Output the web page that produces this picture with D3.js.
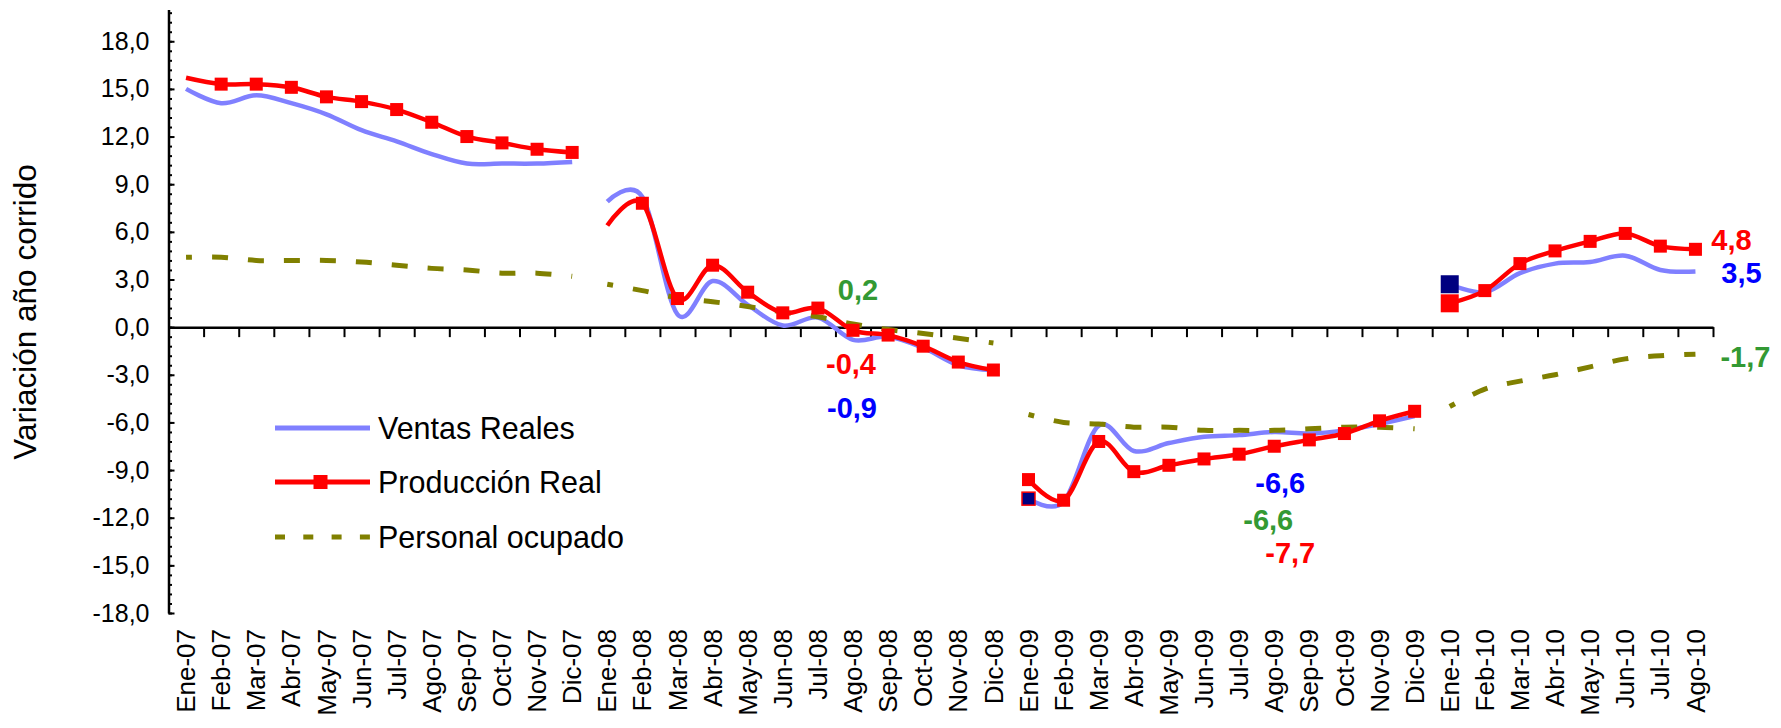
<!DOCTYPE html>
<html>
<head>
<meta charset="utf-8">
<script src="https://cdn.jsdelivr.net/npm/d3@7"></script>
<style>
  body { margin: 0; background: #fff; }
  svg { display: block; font-family: "Liberation Sans", Arial, sans-serif; }
</style>
</head>
<body>
<svg id="chart" width="1781" height="728"></svg>
<script>
// categorias del eje x
var meses = [
  "Ene-07", "Feb-07", "Mar-07", "Abr-07", "May-07", "Jun-07", "Jul-07", "Ago-07", "Sep-07", "Oct-07", "Nov-07", "Dic-07",
  "Ene-08", "Feb-08", "Mar-08", "Abr-08", "May-08", "Jun-08", "Jul-08", "Ago-08", "Sep-08", "Oct-08", "Nov-08", "Dic-08",
  "Ene-09", "Feb-09", "Mar-09", "Abr-09", "May-09", "Jun-09", "Jul-09", "Ago-09", "Sep-09", "Oct-09", "Nov-09", "Dic-09",
  "Ene-10", "Feb-10", "Mar-10", "Abr-10", "May-10", "Jun-10", "Jul-10", "Ago-10"
];

// variacion año corrido (%)
var ventasReales = [
  15.0, 14.1, 14.6, 14.1, 13.4, 12.4, 11.7, 10.9, 10.3, 10.3, 10.3, 10.4,
  7.9, 8.2, 0.8, 2.9, 1.4, 0.1, 0.6, -0.8, -0.6, -1.3, -2.4, -2.7,
  -10.8, -11.0, -6.2, -7.8, -7.3, -6.9, -6.8, -6.6, -6.7, -6.5, -6.1, -5.6,
  2.7, 2.2, 3.4, 4.0, 4.1, 4.5, 3.6, 3.5
];
var produccionReal = [
  15.7, 15.3, 15.3, 15.1, 14.5, 14.2, 13.7, 12.9, 12.0, 11.6, 11.2, 11.0,
  6.4, 7.8, 1.8, 3.9, 2.2, 0.9, 1.2, -0.2, -0.5, -1.2, -2.2, -2.7,
  -9.6, -10.9, -7.2, -9.1, -8.7, -8.3, -8.0, -7.5, -7.1, -6.7, -5.9, -5.3,
  1.5, 2.3, 4.0, 4.8, 5.4, 5.9, 5.1, 4.9
];
var personalOcupado = [
  4.4, 4.4, 4.2, 4.2, 4.2, 4.1, 3.9, 3.7, 3.6, 3.4, 3.4, 3.2,
  2.7, 2.3, 1.85, 1.6, 1.3, 0.95, 0.65, 0.2, -0.15, -0.4, -0.7, -1.0,
  -5.5, -6.0, -6.1, -6.3, -6.3, -6.5, -6.5, -6.5, -6.4, -6.3, -6.3, -6.4,
  -5.0, -3.9, -3.4, -3.0, -2.5, -2.0, -1.8, -1.7
];

var ticksY = [-18, -15, -12, -9, -6, -3, 0, 3, 6, 9, 12, 15, 18];

// etiquetas de datos
var etiquetas = [
  { texto: "0,2", serie: "personal", mes: "Ago-08", valor: 1.71, dx: 5 },
  { texto: "-0,4", serie: "produccion", mes: "Ago-08", valor: -2.95, dx: -2 },
  { texto: "-0,9", serie: "ventas", mes: "Ago-08", valor: -5.72, dx: -1 },
  { texto: "-6,6", serie: "ventas", mes: "Ago-09", valor: -10.44, dx: 6 },
  { texto: "-6,6", serie: "personal", mes: "Ago-09", valor: -12.77, dx: -6 },
  { texto: "-7,7", serie: "produccion", mes: "Ago-09", valor: -14.85, dx: 16 },
  { texto: "4,8", serie: "produccion", mes: "Ago-10", valor: 4.83, dx: 36 },
  { texto: "3,5", serie: "ventas", mes: "Ago-10", valor: 2.76, dx: 46 },
  { texto: "-1,7", serie: "personal", mes: "Ago-10", valor: -2.5, dx: 50 }
];

var sinMarcador = ["Ene-07", "Ene-08"];
var marcadorAzul = ["Ene-09", "Ene-10"];
var marcadorGrande = ["Ene-10"];

var colores = { ventas: "#8080ff", produccion: "#ff0000", personal: "#808000" };
var coloresEtiqueta = { ventas: "#0000ff", produccion: "#ff0000", personal: "#339933" };

var svg = d3.select("#chart");
var plotLeft = 168.5, plotRight = 1713, plotTop = 9.5, plotBottom = 613;

var x = d3.scaleBand().domain(meses).range([plotLeft, plotRight]);
var xBordes = d3.scaleLinear().domain([0, meses.length]).range([plotLeft, plotRight]);
var y = d3.scaleLinear().domain([-18, 20]).range([plotBottom, plotTop]);
function cx(m) { return x(m) + x.bandwidth() / 2; }

// eje y: ticks menores
svg.append("g")
  .attr("transform", "translate(" + plotLeft + ",0)")
  .call(d3.axisLeft(y).tickValues(d3.range(-18, 20.001, 0.6)).tickSizeInner(-3.5).tickSizeOuter(0).tickFormat(""))
  .call(function (g) { g.select(".domain").remove(); })
  .selectAll("line").attr("stroke", "#000").attr("stroke-width", 2);

// eje y principal
var ejeY = svg.append("g")
  .attr("transform", "translate(" + plotLeft + ",0)")
  .call(d3.axisLeft(y).tickValues(ticksY).tickSizeInner(-6).tickSizeOuter(0).tickPadding(19)
    .tickFormat(function (d) { return d.toFixed(1).replace(".", ","); }));
ejeY.select(".domain").attr("stroke", "#000").attr("stroke-width", 2.5);
ejeY.selectAll("line").attr("stroke", "#000").attr("stroke-width", 2);
ejeY.selectAll("text").attr("font-size", 25).attr("font-family", "Liberation Sans, Arial, sans-serif").attr("fill", "#000");

// eje x en cero, ticks entre categorias
var ejeX = svg.append("g")
  .attr("transform", "translate(0," + y(0) + ")")
  .call(d3.axisBottom(xBordes).tickValues(d3.range(1, meses.length + 1)).tickSizeInner(10).tickSizeOuter(0).tickFormat(""));
ejeX.select(".domain").attr("stroke", "#000").attr("stroke-width", 2.5);
ejeX.selectAll("line").attr("stroke", "#000").attr("stroke-width", 2);

// etiquetas del eje x
var etiqX = svg.append("g")
  .attr("transform", "translate(0,629)")
  .call(d3.axisBottom(x).tickSize(0).tickPadding(0));
etiqX.select(".domain").remove();
etiqX.selectAll("text")
  .attr("transform", "rotate(-90)")
  .attr("x", 0).attr("y", 0).attr("dy", "0.35em")
  .style("text-anchor", "end")
  .attr("font-size", 26)
  .attr("font-family", "Liberation Sans, Arial, sans-serif")
  .attr("fill", "#000");

// titulo eje y
svg.append("text")
  .attr("transform", "translate(25,312) rotate(-90)")
  .attr("text-anchor", "middle")
  .attr("dy", "0.35em")
  .attr("font-size", 31.5)
  .text("Variación año corrido");

// series separadas por año
function segmentos(valores) {
  var puntos = meses.map(function (m, i) { return { mes: m, valor: valores[i] }; });
  return Array.from(d3.group(puntos, function (d) { return d.mes.slice(-2); }).values());
}

var linea = d3.line()
  .x(function (d) { return cx(d.mes); })
  .y(function (d) { return y(d.valor); })
  .curve(d3.curveCardinal.tension(0));

svg.append("g").selectAll("path")
  .data(segmentos(ventasReales))
  .enter().append("path")
  .attr("d", linea)
  .attr("fill", "none")
  .attr("stroke", colores.ventas)
  .attr("stroke-width", 4.5);

svg.append("g").selectAll("path")
  .data(segmentos(personalOcupado))
  .enter().append("path")
  .attr("d", linea)
  .attr("fill", "none")
  .attr("stroke", colores.personal)
  .attr("stroke-width", 5)
  .attr("stroke-dasharray", "16,20")
  .attr("stroke-dashoffset", 10);

svg.append("g").selectAll("path")
  .data(segmentos(produccionReal))
  .enter().append("path")
  .attr("d", linea)
  .attr("fill", "none")
  .attr("stroke", colores.produccion)
  .attr("stroke-width", 4.5);

// marcadores
function tam(m) { return marcadorGrande.indexOf(m) >= 0 ? 18 : 13; }

var azules = meses.map(function (m, i) { return { mes: m, valor: ventasReales[i] }; })
  .filter(function (d) { return marcadorAzul.indexOf(d.mes) >= 0; });
svg.append("g").selectAll("rect")
  .data(azules)
  .enter().append("rect")
  .attr("x", function (d) { return cx(d.mes) - tam(d.mes) / 2; })
  .attr("y", function (d) { return y(d.valor) - tam(d.mes) / 2; })
  .attr("width", function (d) { return tam(d.mes); })
  .attr("height", function (d) { return tam(d.mes); })
  .attr("fill", "#000080")
  .attr("stroke", function (d) { return marcadorGrande.indexOf(d.mes) >= 0 ? "none" : "#ff0000"; })
  .attr("stroke-width", 1.5);

var rojos = meses.map(function (m, i) { return { mes: m, valor: produccionReal[i] }; })
  .filter(function (d) { return sinMarcador.indexOf(d.mes) < 0; });
svg.append("g").selectAll("rect")
  .data(rojos)
  .enter().append("rect")
  .attr("x", function (d) { return cx(d.mes) - tam(d.mes) / 2; })
  .attr("y", function (d) { return y(d.valor) - tam(d.mes) / 2; })
  .attr("width", function (d) { return tam(d.mes); })
  .attr("height", function (d) { return tam(d.mes); })
  .attr("fill", "#ff0000");

// etiquetas de datos
svg.append("g").selectAll("text")
  .data(etiquetas)
  .enter().append("text")
  .attr("x", function (d) { return cx(d.mes) + d.dx; })
  .attr("y", function (d) { return y(d.valor); })
  .attr("text-anchor", "middle")
  .attr("font-size", 29)
  .attr("font-weight", "bold")
  .attr("fill", function (d) { return coloresEtiqueta[d.serie]; })
  .text(function (d) { return d.texto; });

// leyenda
var leyenda = [
  { nombre: "Ventas Reales", serie: "ventas" },
  { nombre: "Producción Real", serie: "produccion" },
  { nombre: "Personal ocupado", serie: "personal" }
];
var filasY = [428, 482, 537];
var ley = svg.append("g");
leyenda.forEach(function (d, i) {
  var g = ley.append("g").attr("transform", "translate(275," + filasY[i] + ")");
  var l = g.append("line")
    .attr("x1", 0).attr("x2", 95).attr("y1", 0).attr("y2", 0)
    .attr("stroke", colores[d.serie])
    .attr("stroke-width", 5);
  if (d.serie === "personal") l.attr("stroke-dasharray", "10,18.3");
  if (d.serie === "produccion") {
    g.append("rect").attr("x", 38.5).attr("y", -7).attr("width", 14).attr("height", 14).attr("fill", "#ff0000");
  }
  g.append("text")
    .attr("x", 103).attr("y", 0).attr("dy", "0.35em")
    .attr("font-size", 30.5)
    .text(d.nombre);
});
</script>
</body>
</html>
